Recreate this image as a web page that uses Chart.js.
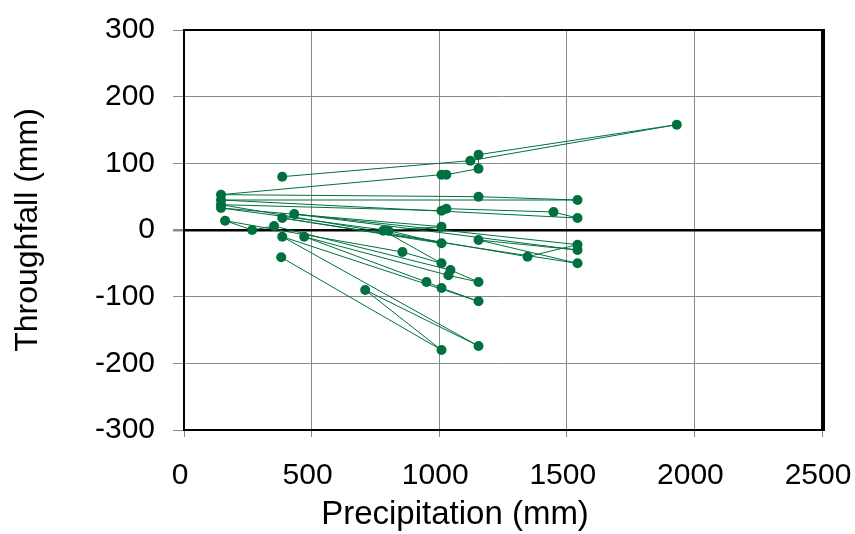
<!DOCTYPE html>
<html>
<head>
<meta charset="utf-8">
<script src="https://cdn.jsdelivr.net/npm/chart.js@4/dist/chart.umd.min.js"></script>
<style>
  html, body { margin: 0; padding: 0; background: #fff; }
  #wrap { width: 855px; height: 534px; }
</style>
</head>
<body>
<div id="wrap"><canvas id="tfChart" width="855" height="534"></canvas></div>
<script>
// Precipitation (mm) and throughfall (mm), in the order the line connects them
const precipitation = [385, 1122, 1931, 1154, 1154, 1028, 1009, 145, 1154, 1542, 145, 1542, 1448, 1028, 1009, 145, 1346, 1542, 432, 1542, 1154, 1542, 385, 1009, 801, 145, 1009, 781, 1009, 856, 161, 267, 353, 1044, 1154, 1036, 471, 950, 1009, 1154, 385, 1154, 710, 1009, 381];
const throughfall   = [80, 104, 158, 113, 92, 83, 83, 53, 50, 45, 45, 18, 27, 32, 29, 38, -40, -22, 24, -30, -15, -50, 18, -20, -1, 33, 5, -1, -50, -33, 14, 0, 6, -60, -78, -68, -10, -78, -87, -107, -10, -174, -90, -180, -41];

const xTicks = [0, 500, 1000, 1500, 2000, 2500];
const yTicks = [-300, -200, -100, 0, 100, 200, 300];
const xTitle = 'Precipitation (mm)';

const points = precipitation.map((x, i) => ({ x: x, y: throughfall[i] }));

// top and right frame lines of the plot area, plus the x title (sits left of centre in the original)
const frame = {
  id: 'frame',
  afterDraw(chart) {
    const a = chart.chartArea;
    const c = chart.ctx;
    c.save();
    c.strokeStyle = '#000';
    c.lineWidth = 2;
    c.beginPath();
    c.moveTo(a.left, a.top);
    c.lineTo(a.right, a.top);
    c.stroke();
    c.lineWidth = 4;
    c.beginPath();
    c.moveTo(a.right + 1, a.top - 1);
    c.lineTo(a.right + 1, a.bottom + 1);
    c.stroke();

    c.fillStyle = '#000';
    c.font = '33px "Liberation Sans"';
    c.textAlign = 'center';
    c.textBaseline = 'middle';
    c.fillText(xTitle, 455, 515);
    c.restore();
  }
};

const ctx = document.getElementById('tfChart').getContext('2d');

new Chart(ctx, {
  type: 'scatter',
  data: {
    datasets: [
      {
        data: points,
        showLine: true,
        borderColor: '#00703f',
        borderWidth: 1,
        backgroundColor: '#00703f',
        pointRadius: 5,
        pointBorderWidth: 0,
        tension: 0,
      },
    ],
  },
  options: {
    responsive: false,
    animation: false,
    layout: { padding: { left: 6, right: 33, top: 30, bottom: 0 } },
    plugins: {
      legend: { display: false },
      tooltip: { enabled: false },
    },
    scales: {
      x: {
        type: 'linear',
        min: 0,
        max: 2500,
        afterBuildTicks: s => { s.ticks = xTicks.map(v => ({ value: v })); },
        afterFit: s => { s.height = 104; s.paddingLeft = 0; s.paddingRight = 0; },
        grid: { color: '#8a8a8a', lineWidth: 1, tickLength: 7, tickColor: '#8a8a8a' },
        border: { color: '#000', width: 2 },
        ticks: {
          color: '#000',
          font: { family: 'Liberation Sans', size: 30 },
          padding: 21,
          labelOffset: -4,
          callback: v => String(v),
        },
        title: { display: false },
      },
      y: {
        min: -300,
        max: 300,
        afterBuildTicks: s => { s.ticks = yTicks.map(v => ({ value: v })); },
        afterFit: s => { s.width = 178; s.paddingTop = 0; s.paddingBottom = 0; },
        grid: {
          color: c => (c.tick && c.tick.value === 0 ? '#000' : '#8a8a8a'),
          lineWidth: c => (c.tick && c.tick.value === 0 ? 2.5 : 1),
          tickLength: 11,
          tickColor: '#8a8a8a',
        },
        border: { color: '#000', width: 2 },
        ticks: {
          color: '#000',
          font: { family: 'Liberation Sans', size: 30 },
          padding: 18,
          callback: v => String(v),
        },
        title: {
          display: true,
          text: 'Throughfall (mm)',
          color: '#000',
          font: { family: 'Liberation Sans', size: 32, lineHeight: 1 },
          padding: { top: 6, bottom: 0 },
        },
      },
    },
  },
  plugins: [frame],
});
</script>
</body>
</html>
